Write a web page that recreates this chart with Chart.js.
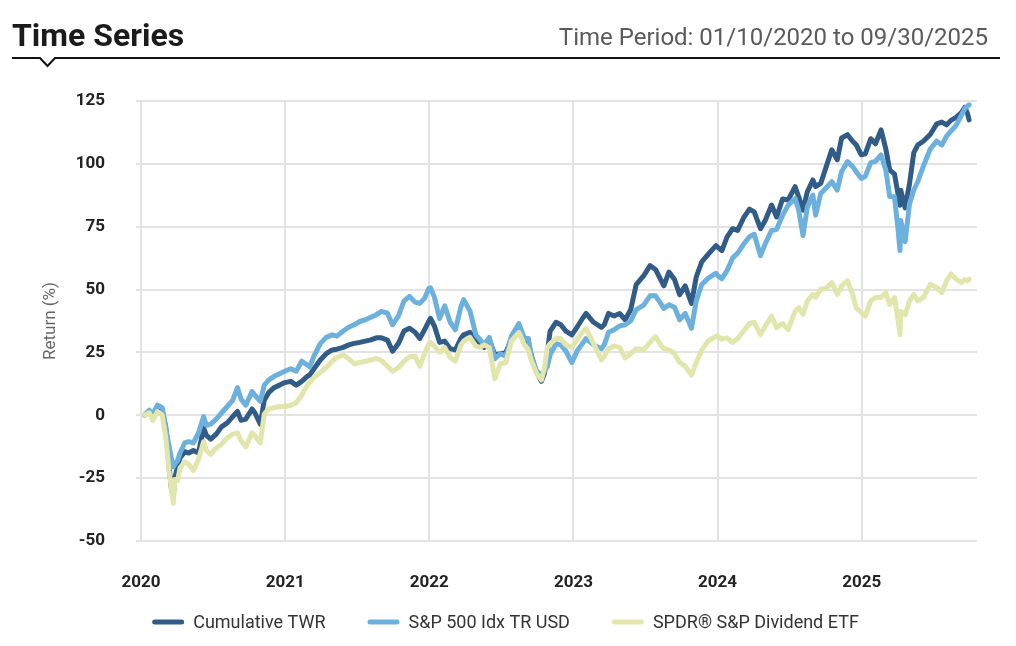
<!DOCTYPE html>
<html><head><meta charset="utf-8">
<script src="https://cdn.jsdelivr.net/npm/chart.js@4.4.1/dist/chart.umd.min.js"></script>
<style>
html,body{margin:0;padding:0;background:#fff;width:1016px;height:646px;overflow:hidden}
#wrap{position:relative;width:1016px;height:646px}
#c{position:absolute;left:0;top:0}
#title{position:absolute;left:12px;top:19px;font:700 32px Roboto;line-height:1;color:#1b1b1b;white-space:nowrap}
#period{position:absolute;right:28px;top:25px;font:400 24px Roboto;line-height:1;color:#5a5a5a;white-space:nowrap}
svg{position:absolute;left:0;top:0}
</style></head>
<body><div id="wrap">
<canvas id="c" width="1016" height="646"></canvas>
<div id="title">Time Series</div>
<div id="period">Time Period: 01/10/2020 to 09/30/2025</div>
<svg width="1016" height="80"><path d="M12 58 H40 L47.5 66 L55 58 H1000" stroke="#111" stroke-width="2" fill="none"/></svg>
</div>
<script>
const dates = [
'2020-01-10','2020-01-22','2020-01-31','2020-02-12','2020-02-24','2020-03-04','2020-03-12','2020-03-18','2020-03-23','2020-03-27','2020-04-03','2020-04-09','2020-04-21','2020-05-01','2020-05-13','2020-05-26','2020-06-08','2020-06-15','2020-06-26','2020-07-10','2020-07-24','2020-08-07','2020-08-21','2020-09-02','2020-09-11','2020-09-23','2020-10-09','2020-10-16','2020-10-30','2020-11-09','2020-11-20','2020-12-04','2020-12-18','2020-12-31',
'2021-01-15','2021-01-29','2021-02-12','2021-02-26','2021-03-04','2021-03-15','2021-03-31','2021-04-15','2021-04-30','2021-05-12','2021-05-28','2021-06-11','2021-06-25','2021-07-09','2021-07-23','2021-08-06','2021-08-20','2021-09-02','2021-09-17','2021-09-30','2021-10-15','2021-10-29','2021-11-12','2021-11-26','2021-12-08','2021-12-20','2021-12-31',
'2022-01-04','2022-01-14','2022-01-27','2022-02-09','2022-02-23','2022-03-08','2022-03-22','2022-03-29','2022-04-14','2022-04-29','2022-05-10','2022-05-20','2022-06-02','2022-06-16','2022-06-30','2022-07-14','2022-07-28','2022-08-16','2022-08-30','2022-09-09','2022-09-16','2022-09-30','2022-10-12','2022-10-20','2022-10-27','2022-11-03','2022-11-18','2022-11-30','2022-12-13','2022-12-28',
'2023-01-12','2023-01-26','2023-02-02','2023-02-21','2023-03-13','2023-03-20','2023-03-31','2023-04-14','2023-04-28','2023-05-12','2023-05-26','2023-06-09','2023-06-28','2023-07-14','2023-07-28','2023-08-10','2023-08-18','2023-08-31','2023-09-14','2023-09-27','2023-10-11','2023-10-27','2023-11-08','2023-11-22','2023-12-08','2023-12-28',
'2024-01-02','2024-01-12','2024-01-25','2024-02-08','2024-02-21','2024-03-07','2024-03-22','2024-04-03','2024-04-19','2024-05-01','2024-05-17','2024-05-30','2024-06-14','2024-06-28','2024-07-16','2024-07-25','2024-08-05','2024-08-16','2024-08-30','2024-09-06','2024-09-19','2024-10-03','2024-10-17','2024-10-31','2024-11-11','2024-11-26','2024-12-09','2024-12-18','2024-12-31',
'2025-01-10','2025-01-24','2025-02-05','2025-02-19','2025-03-03','2025-03-13','2025-03-25','2025-04-03','2025-04-08','2025-04-10','2025-04-21','2025-05-02','2025-05-13','2025-05-23','2025-06-06','2025-06-24','2025-07-10','2025-07-23','2025-08-04','2025-08-15','2025-08-29','2025-09-11','2025-09-19','2025-09-26','2025-09-30'
];
const cumulativeTWR = [
0,1.5,-0.5,3,2,-5,-20,-29,-32,-25,-20,-17,-14.5,-15,-14,-15,-5,-8,-9.5,-7.5,-4.5,-3,-0.5,1.5,-2,-1.5,2.5,1,-3.5,6,9,11,12,13,
13.5,12,13.5,15.5,16,18.5,22,24.5,26,26.3,27,28,28.6,29,29.5,30,30.8,30.8,29.9,25.5,28.6,33.5,34.6,33,30.5,34,37.5,
38.5,35.5,29,29.5,26.5,26,30.5,32,33,30,28.5,27,30,24,24.5,25,30.5,35,30,29,24,17,13.5,17,25,33.5,37,36,33.5,32,
35.5,39,40.5,37,35,36,40.5,39.5,40.5,38,42,52,55.5,59.5,58,54,51.5,57,54,48,51.5,44.5,55,61,64,67.5,
66.8,65.5,70.9,74.2,73.5,78.5,82,80.9,74.2,77.5,83.6,78.9,86,85.6,90.9,86.9,81.6,88.9,93.6,91,92.2,98.9,105.6,101.6,110.3,111.6,109,107.6,103.6,
104,110,108,113.5,106,97.5,96,88,83.5,89.5,82.5,92,104.5,107.5,109,111.8,115.9,116.6,115.5,117.3,118.6,120.5,122.5,120,117.5
];
const sp500 = [
0,2,0.5,4,3,-5,-12,-17,-20.5,-19.5,-18,-15,-11,-10.5,-11,-7,-0.5,-4,-3.5,-1.5,1,3.5,6,11,6.5,4,9.5,8,5.5,12,14,15.5,16.5,17.5,
18.5,17.5,21.5,20,19.3,23.5,28.5,31,32,31.5,33.5,35,36,37.3,38,39,40,41.3,40.6,36,39.5,45.5,47.3,45,44.5,46.5,50.5,
50.7,47,38.5,43.5,37,34,43,46,41.5,32,30,28,31,22.5,24.5,23.5,31.5,36.5,30.5,30.5,23.5,17.5,16,17.5,19.5,24,28.5,28,25.5,21,
26,29,30.5,28,26.5,28,33,34,35.5,36,37.5,42,43.8,47.5,47.5,44.5,42.5,44,43,38,40.5,34.6,45.5,52,54.5,56.5,
55.5,54.3,57.5,62.5,64.5,68,71,72,63.5,68.2,73.5,74,79.5,83.5,86.2,81.6,71.5,82.9,87.6,79.6,88.2,90.5,92.9,89.6,96.9,100.9,98.9,96.9,94.2,
95,100.5,101,103.6,97.6,87,86.9,74,65.5,77.5,69,84,89.6,92.9,99,106,109,107.5,111,113,115.5,119.5,122,123,123.5
];
const spdrDividend = [
0,1,-2,1.5,0,-9,-22,-29,-35,-25.5,-26,-21,-18.5,-19.5,-22,-17.5,-10.5,-14,-15.5,-13,-11.5,-9,-7.5,-7,-10,-12.5,-7,-8,-11,0.5,2.5,3,3.5,3.5,
4,5,8,12,13,15,17,19,21.5,23,24,22.5,20.5,21,21.5,22,22.6,21.8,19.5,17.5,19,21.5,23.3,23.5,19.5,24.5,28.5,
29,27.5,25,27,23,21.5,28,29.5,31,27.5,27,28,27,14.5,20.5,21,29.5,33,28,26,22,16.5,14,19,27,28.5,30.5,30.5,28,27,
30.5,33.5,34.5,28.5,22,23.5,26.5,27.5,27,22.8,24.5,26.5,26,29,31.3,28,26.5,26,24.5,21,19.5,16,21,26,29.5,31.5,
31.4,30.3,30.8,29,30.5,33.5,36.5,37,32.1,35.4,39.4,34.8,36.5,34.1,41.4,42.8,40.1,45.5,48.1,47,50.1,50.5,52.8,48.1,51.5,53.5,48.1,42.8,40.8,
39.4,45.5,46.8,46.8,48.8,44.1,46.8,38,32.1,41.4,40,45.5,48.1,45.5,46.8,52.1,50.8,48.8,53.5,56.2,54.1,52.8,54,53.5,54.1
];
const yearTicks = [2020,2021,2022,2023,2024,2025];
const returnTicks = [-50,-25,0,25,50,75,100,125];
const seriesNames = ['Cumulative TWR','S&P 500 Idx TR USD','SPDR® S&P Dividend ETF'];

function toYear(s){
  const p = s.split('-').map(Number);
  const a = Date.UTC(p[0],0,1), b = Date.UTC(p[0]+1,0,1);
  return p[0] + (Date.UTC(p[0],p[1]-1,p[2]) - a) / (b - a);
}
function pts(vals){ return dates.map((d,i)=>({x: toYear(d), y: vals[i]})); }

Chart.defaults.font.family = 'Roboto';

const legendPlugin = {
  id: 'lineLegend',
  afterDraw(chart){
    const ctx = chart.ctx;
    ctx.save();
    ctx.font = '400 18px Roboto';
    const items = chart.data.datasets.map(ds => ({text: ds.label, color: ds.borderColor, w: ctx.measureText(ds.label).width}));
    const lineLen = 32, gapText = 9, gapItem = 42;
    const total = items.reduce((s,it)=>s + lineLen + gapText + it.w, 0) + gapItem*(items.length-1);
    let x = 505.5 - total/2;
    const y = 622;
    items.forEach(it=>{
      ctx.strokeStyle = it.color; ctx.lineWidth = 5; ctx.lineCap = 'round';
      ctx.beginPath(); ctx.moveTo(x+2.5, y); ctx.lineTo(x+lineLen-2.5, y); ctx.stroke();
      ctx.fillStyle = '#333'; ctx.textBaseline = 'middle'; ctx.textAlign = 'left';
      ctx.fillText(it.text, x + lineLen + gapText, y+1);
      x += lineLen + gapText + it.w + gapItem;
    });
    ctx.restore();
  }
};

new Chart(document.getElementById('c'), {
  type: 'line',
  data: {
    datasets: [
      {label: seriesNames[0], data: pts(cumulativeTWR), borderColor: '#325c88', order: 3},
      {label: seriesNames[1], data: pts(sp500), borderColor: '#6cb1de', order: 2},
      {label: seriesNames[2], data: pts(spdrDividend), borderColor: '#e2e6ad', order: 1}
    ].map(d => Object.assign(d, {borderWidth: 5, pointRadius: 0, tension: 0, fill: false, borderJoinStyle: 'round', borderCapStyle: 'round'}))
  },
  options: {
    responsive: false,
    animation: false,
    parsing: false,
    layout: {padding: {left: 41, right: 39, top: 101, bottom: 45}},
    plugins: {legend: {display: false}, tooltip: {enabled: false}},
    scales: {
      x: {
        type: 'linear', min: 2020, max: 2025.8,
        afterBuildTicks: s => { s.ticks = yearTicks.map(v => ({value: v})); },
        afterFit: s => { s.height = 60; },
        grid: {color: '#e3e3e3', lineWidth: 2, drawTicks: false},
        border: {display: false},
        ticks: {padding: 32, maxRotation: 0, autoSkip: false, color: '#222', font: {size: 17, weight: 'bold'}, callback: v => String(v)}
      },
      y: {
        min: -50, max: 125,
        afterBuildTicks: s => { s.ticks = returnTicks.map(v => ({value: v})); },
        afterFit: s => { s.width = 100; },
        grid: {color: '#e3e3e3', lineWidth: 2, tickLength: 5},
        border: {display: false},
        ticks: {padding: 31, color: '#222', font: {size: 17, weight: 'bold'}, callback: v => String(v)},
        title: {display: true, text: 'Return (%)', color: '#666', font: {size: 17}, padding: {top: 0, bottom: 0}}
      }
    }
  },
  plugins: [legendPlugin]
});
</script>
</body></html>
